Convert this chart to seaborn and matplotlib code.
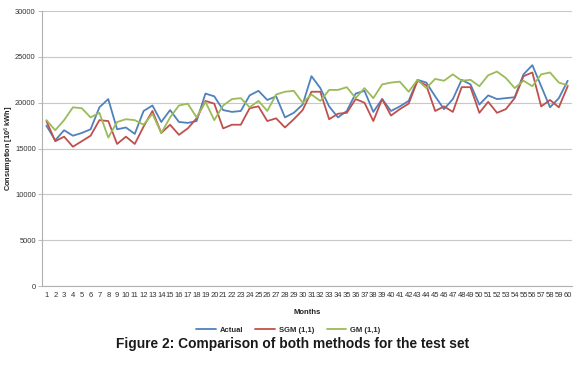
import pandas as pd
import seaborn as sns
import matplotlib.pyplot as plt

# monthly consumption for the test set
months = list(range(1, 61))
actual = [17500, 15900, 17000, 16400, 16700, 17100, 19500, 20400, 17100, 17300,
          16600, 19100, 19700, 17900, 19200, 17900, 17800, 18000, 21000, 20700,
          19200, 19000, 19100, 20800, 21300, 20300, 20700, 18400, 18900, 19800,
          22900, 21600, 19600, 18400, 19100, 21000, 21300, 19000, 20400, 19100,
          19600, 20200, 22500, 22200, 20700, 19300, 20400, 22500, 22000, 19800,
          20800, 20400, 20500, 20600, 23100, 24100, 21800, 19500, 20500, 22400]
sgm = [18000, 15800, 16300, 15200, 15800, 16400, 18100, 18000, 15500, 16300,
       15500, 17400, 19100, 16700, 17600, 16500, 17200, 18300, 20200, 19900,
       17200, 17600, 17600, 19400, 19600, 18000, 18300, 17300, 18200, 19200,
       21200, 21200, 18200, 18800, 18900, 20400, 20000, 18000, 20400, 18600,
       19300, 19900, 22400, 21900, 19100, 19600, 19000, 21700, 21700, 18900,
       20100, 18900, 19300, 20500, 22900, 23300, 19600, 20300, 19500, 21800]
gm = [18100, 17000, 18100, 19500, 19400, 18400, 18900, 16200, 17900, 18200,
      18100, 17600, 18800, 16700, 18400, 19700, 19900, 18400, 20100, 18100,
      19700, 20400, 20500, 19500, 20200, 19100, 20900, 21200, 21300, 20000,
      20900, 20200, 21400, 21400, 21700, 20500, 21600, 20500, 22000, 22200,
      22300, 21200, 22500, 21600, 22600, 22400, 23100, 22400, 22500, 21800,
      23000, 23400, 22700, 21600, 22400, 21800, 23100, 23300, 22200, 21900]

series_names = ['Actual', 'SGM (1,1)', 'GM (1,1)']
colors = ['#4F81BD', '#C0504D', '#9BBB59']

df = pd.DataFrame({
    'Month': months * 3,
    'Consumption': actual + sgm + gm,
    'Series': [n for n in series_names for _ in months],
})

sns.set_style('white')
plt.rcParams['font.family'] = ['Liberation Sans', 'DejaVu Sans']

fig = plt.figure(figsize=(5.8, 3.7), dpi=100)
ax = fig.add_axes([0.0724, 0.227, 0.914, 0.743])

sns.lineplot(data=df, x='Month', y='Consumption', hue='Series', palette=colors,
             linewidth=1.3, ax=ax, legend=False)

# axes, Excel style
ax.set_xlim(0.5, 60.5)
ax.set_ylim(0, 30000)
ax.set_yticks(range(0, 30001, 5000))
ax.set_xticks(months)
ax.set_xticks([m + 0.5 for m in range(0, 61)], minor=True)
ax.tick_params(axis='x', which='major', length=0, labelsize=5.5, labelcolor='#333333', pad=4)
ax.tick_params(axis='x', which='minor', length=3, color='#b0b0b0', width=0.6)
ax.tick_params(axis='y', length=3, color='#b0b0b0', width=0.6, labelsize=5.4,
               labelcolor='#333333', pad=1.5, left=True)
ax.yaxis.grid(True, color='#c8c8c8', linewidth=0.8)
ax.set_axisbelow(True)
for side in ['top', 'right']:
    ax.spines[side].set_visible(False)
for side in ['left', 'bottom']:
    ax.spines[side].set_color('#b0b0b0')
    ax.spines[side].set_linewidth(0.8)

ax.set_xlabel('Months', fontsize=5.5, fontweight='bold', color='#222222')
ax.xaxis.set_label_coords(0.5, -0.084)
ax.set_ylabel('Consumption [10$^6$ kWh]', fontsize=5.3, fontweight='bold', color='#222222')
ax.yaxis.set_label_coords(-0.0495, 0.5)

fig.legend(handles=ax.get_lines()[:3], labels=series_names, loc='center',
           bbox_to_anchor=(0.497, 0.108), ncol=3, frameon=False,
           prop={'size': 5.5, 'weight': 'bold'}, handlelength=2.6,
           columnspacing=1.6, handletextpad=0.5)

fig.text(0.505, 0.07, 'Figure 2: Comparison of both methods for the test set',
         ha='center', va='center', fontsize=9.9, fontweight='bold', color='#1a1a1a')

fig.savefig('out.png', dpi=100)
